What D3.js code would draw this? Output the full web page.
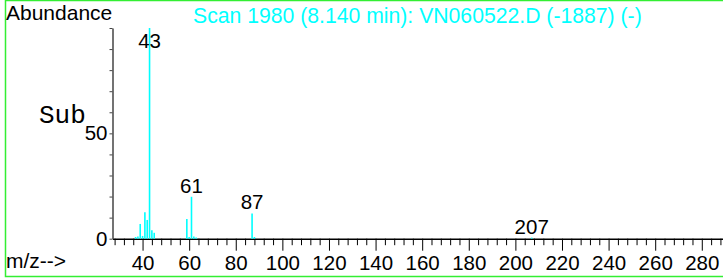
<!DOCTYPE html>
<html>
<head>
<meta charset="utf-8">
<script src="https://cdn.jsdelivr.net/npm/d3@7"></script>
<style>
  html, body { margin: 0; padding: 0; background: #fff; }
  svg { display: block; }
  text { font-family: "Liberation Sans", Arial, sans-serif; }
</style>
</head>
<body>
<div id="chart"></div>
<script>
// Mass spectrum (ChemStation style) drawn with D3.
const mz = [37, 38, 39, 40, 41, 42, 43, 44, 45, 59, 60, 61, 62, 63, 87, 88, 207];
const abundance = [0.8, 1.0, 7.0, 1.3, 12.5, 8.9, 100, 4.0, 2.8, 9.3, 0.8, 19.9, 1.0, 0.6, 12.0, 0.8, 0.5];
const labeledPeaks = [43, 61, 87, 207];
const xMajorTicks = [40, 60, 80, 100, 120, 140, 160, 180, 200, 220, 240, 260, 280];
const yLabelTicks = [0, 50];
const title = 'Scan 1980 (8.140 min): VN060522.D (-1887) (-)';

const width = 723, height = 279;

const svg = d3.select('#chart').append('svg')
    .attr('width', width)
    .attr('height', height);

// frame
svg.append('rect')
    .attr('x', 5.5).attr('y', 0.5)
    .attr('width', 722).attr('height', 276)
    .attr('fill', 'none')
    .attr('stroke', '#33ee33')
    .attr('stroke-width', 1.5);

const x = d3.scaleLinear().domain([27.1, 289.1]).range([112.5, 723]);
const y = d3.scaleLinear().domain([0, 100]).range([238.7, 28]);

// minor x ticks every 4
const minorTicks = d3.range(28, 289, 4).filter(v => v % 20 !== 0);

const xMinor = d3.axisBottom(x).tickValues(minorTicks).tickSize(6.5).tickFormat('');
svg.append('g')
    .attr('transform', `translate(0,${y(0)})`)
    .call(xMinor)
    .call(g => g.select('.domain').remove())
    .call(g => g.selectAll('line').attr('stroke', '#000'));

const xAxis = d3.axisBottom(x).tickValues(xMajorTicks).tickSize(12).tickSizeOuter(0).tickPadding(5);
svg.append('g')
    .attr('transform', `translate(0,${y(0)})`)
    .call(xAxis)
    .call(g => g.select('.domain').attr('stroke', '#000').attr('stroke-width', 1.5))
    .call(g => g.selectAll('line').attr('stroke', '#000'))
    .call(g => g.selectAll('text')
        .attr('font-size', 20.5)
        .attr('font-family', '"Liberation Sans", Arial, sans-serif')
        .attr('fill', '#000'));

const yAxis = d3.axisLeft(y).tickValues(d3.range(0, 101, 10)).tickSize(3).tickSizeOuter(0).tickPadding(2)
    .tickFormat(d => yLabelTicks.includes(d) ? d : '');
svg.append('g')
    .attr('transform', `translate(${x.range()[0]},0)`)
    .call(yAxis)
    .call(g => g.select('.domain').attr('stroke', '#444').attr('stroke-width', 1.5))
    .call(g => g.selectAll('line').attr('stroke', '#444'))
    .call(g => g.selectAll('text')
        .attr('font-size', 20.5)
        .attr('font-family', '"Liberation Sans", Arial, sans-serif')
        .attr('fill', '#000'));

// peaks
const peaks = mz.map((m, i) => ({ m, a: abundance[i] }));
svg.append('g').selectAll('line')
    .data(peaks)
    .join('line')
    .attr('x1', d => x(d.m)).attr('x2', d => x(d.m))
    .attr('y1', y(0)).attr('y2', d => y(d.a))
    .attr('stroke', '#00ffff')
    .attr('stroke-width', 1.6);

// peak labels
svg.append('g').selectAll('text')
    .data(peaks.filter(d => labeledPeaks.includes(d.m)))
    .join('text')
    .attr('x', d => x(d.m))
    .attr('y', d => Math.max(y(d.a) - 4, 48))
    .attr('text-anchor', 'middle')
    .attr('font-size', 20.5)
    .attr('fill', '#000')
    .text(d => d.m);

// texts
svg.append('text')
    .attr('x', 6).attr('y', 19.5)
    .attr('font-size', 21)
    .attr('fill', '#000')
    .text('Abundance');

svg.append('text')
    .attr('x', 193).attr('y', 22.5)
    .attr('font-size', 21.2)
    .attr('fill', '#00ffff')
    .text(title);

svg.append('text')
    .attr('x', 39).attr('y', 123)
    .attr('font-size', 26)
    .style('font-family', '"Liberation Mono", "Courier New", monospace')
    .attr('fill', '#000')
    .text('Sub');

svg.append('text')
    .attr('x', 6).attr('y', 268)
    .attr('font-size', 21)
    .attr('fill', '#000')
    .text('m/z-->');
</script>
</body>
</html>
